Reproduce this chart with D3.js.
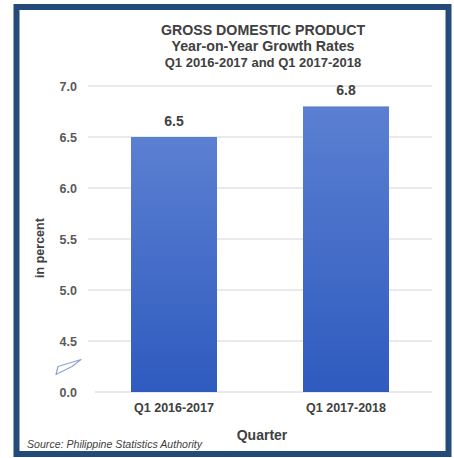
<!DOCTYPE html>
<html lang="en">
    <head>
        <meta charset="utf-8"/>
        <script src="https://d3js.org/d3.v7.min.js"></script>
        <style>
            body { margin: 0; background: #fff; }
            text { font-family: "Liberation Sans", Arial, sans-serif; }
        </style>
    </head>
    <body>
        <div id="chart"></div>
    </body>
    <script>
        // data
        var quarters = ["Q1 2016-2017", "Q1 2017-2018"];
        var growth = [6.5, 6.8];
        var tickValues = [4.0, 4.5, 5.0, 5.5, 6.0, 6.5, 7.0];
        var tickLabels = ["0.0", "4.5", "5.0", "5.5", "6.0", "6.5", "7.0"];
        var titleLines = ["GROSS DOMESTIC PRODUCT", "Year-on-Year Growth Rates", "Q1 2016-2017 and Q1 2017-2018"];

        var W = 454, H = 458;
        var margin = {top: 86, right: 22, bottom: 66, left: 88};
        var width = W - margin.left - margin.right;
        var height = H - margin.top - margin.bottom;

        var root = d3.select("#chart")
            .append("svg")
                .attr("width", W)
                .attr("height", H);

        var defs = root.append("defs");
        var grad = defs.append("linearGradient")
            .attr("id", "barGrad")
            .attr("x1", 0).attr("y1", 0).attr("x2", 0).attr("y2", 1);
        grad.append("stop").attr("offset", "0%").attr("stop-color", "#5b80d2");
        grad.append("stop").attr("offset", "100%").attr("stop-color", "#2f5bbf");

        // frame
        root.append("rect")
            .attr("x", 16.5).attr("y", 7)
            .attr("width", 432).attr("height", 447)
            .attr("fill", "#fff")
            .attr("stroke", "#244a7a")
            .attr("stroke-width", 6);

        var svg = root.append("g")
            .attr("transform", "translate(" + margin.left + "," + margin.top + ")");

        var x = d3.scaleBand()
            .domain(quarters)
            .range([0, width])
            .paddingInner(0.5)
            .paddingOuter(0.25);

        // broken axis: bottom tick stands for 0.0
        var y = d3.scaleLinear()
            .domain([4, 7])
            .range([height, 0]);

        // gridlines
        svg.append("g")
            .selectAll("line")
            .data(tickValues)
            .enter()
            .append("line")
                .attr("x1", function (d) { return d === 4 ? 7 : 0; })
                .attr("x2", width)
                .attr("y1", function (d) { return y(d); })
                .attr("y2", function (d) { return y(d); })
                .attr("stroke", "#e3e3e3")
                .attr("stroke-width", 1.3);

        // y axis labels
        var yAxis = d3.axisLeft(y)
            .tickValues(tickValues)
            .tickFormat(function (d, i) { return tickLabels[i]; })
            .tickSize(0)
            .tickPadding(11);

        svg.append("g")
            .call(yAxis)
            .call(function (g) { g.select(".domain").remove(); })
            .selectAll("text")
                .attr("fill", "#595959")
                .attr("font-size", 12.5)
                .attr("font-weight", "bold")
                .attr("font-family", "Liberation Sans, Arial, sans-serif");

        // axis break mark
        var yb = (y(4) + y(4.5)) / 2;
        svg.append("path")
            .attr("d", "M-32," + (yb + 8) + " L-30," + (yb) + " L-7," + (yb - 7) + " L-16," + (yb) + " Z")
            .attr("fill", "none")
            .attr("stroke", "#8ea3d3")
            .attr("stroke-width", 1.2)
            .attr("stroke-linejoin", "round");

        // bars
        svg.selectAll("rect.bar")
            .data(growth)
            .enter()
            .append("rect")
                .attr("class", "bar")
                .attr("x", function (d, i) { return x(quarters[i]); })
                .attr("y", function (d) { return y(d); })
                .attr("width", x.bandwidth())
                .attr("height", function (d) { return y(4) - y(d); })
                .attr("fill", "url(#barGrad)");

        // value labels
        svg.selectAll("text.val")
            .data(growth)
            .enter()
            .append("text")
                .attr("class", "val")
                .attr("x", function (d, i) { return x(quarters[i]) + x.bandwidth() / 2; })
                .attr("y", function (d) { return y(d) - 11; })
                .attr("text-anchor", "middle")
                .attr("fill", "#404040")
                .attr("font-size", 14)
                .attr("font-weight", "bold")
                .text(function (d) { return d.toFixed(1); });

        // x axis labels
        var xAxis = d3.axisBottom(x).tickSize(0).tickPadding(11);
        svg.append("g")
            .attr("transform", "translate(0," + height + ")")
            .call(xAxis)
            .call(function (g) { g.select(".domain").remove(); })
            .selectAll("text")
                .attr("fill", "#404040")
                .attr("font-size", 12.5)
                .attr("font-weight", "bold")
                .attr("font-family", "Liberation Sans, Arial, sans-serif");

        // axis titles
        svg.append("text")
            .attr("x", width / 2 + 2)
            .attr("y", height + 48)
            .attr("text-anchor", "middle")
            .attr("fill", "#404040")
            .attr("font-size", 14)
            .attr("font-weight", "bold")
            .text("Quarter");

        root.append("text")
            .attr("transform", "translate(44,248) rotate(-90)")
            .attr("text-anchor", "middle")
            .attr("fill", "#404040")
            .attr("font-size", 12.5)
            .attr("font-weight", "bold")
            .text("in percent");

        // title
        root.append("g")
            .selectAll("text")
            .data(titleLines)
            .enter()
            .append("text")
                .attr("x", 263)
                .attr("y", function (d, i) { return 35 + i * 16; })
                .attr("text-anchor", "middle")
                .attr("fill", "#404040")
                .attr("font-size", function (d, i) { return i === 2 ? 13 : 14.2; })
                .attr("font-weight", "bold")
                .text(function (d) { return d; });

        // source
        root.append("text")
            .attr("x", 27)
            .attr("y", 448)
            .attr("fill", "#404040")
            .attr("font-size", 10.6)
            .attr("font-style", "italic")
            .text("Source: Philippine Statistics Authority");
    </script>
</html>
